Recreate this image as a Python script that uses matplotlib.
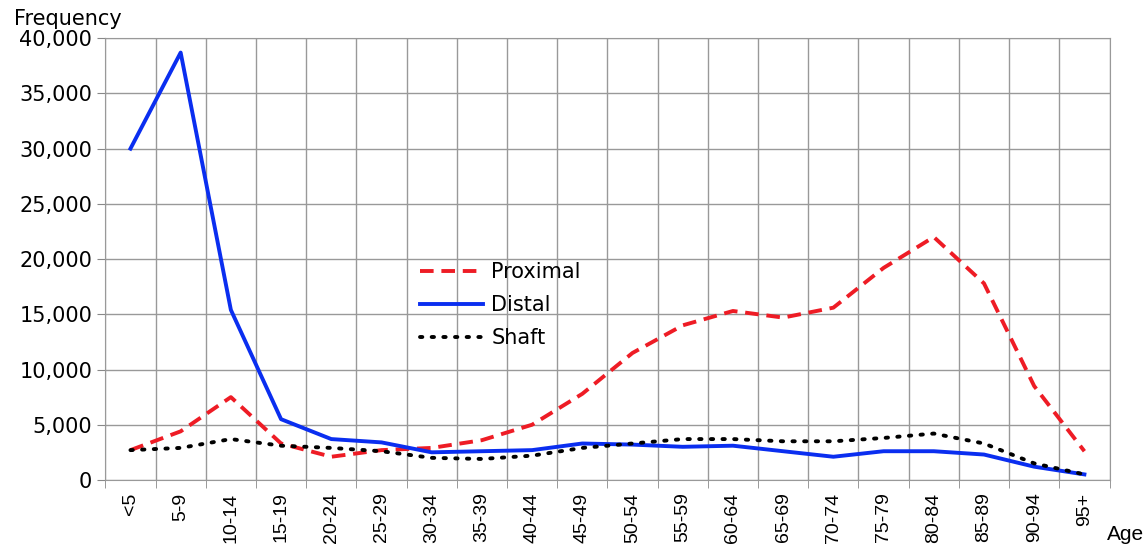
import numpy as np
import matplotlib
matplotlib.use("Agg")
import matplotlib.pyplot as plt
from matplotlib.ticker import FixedLocator, FuncFormatter

# age groups and fracture counts
ages = ['<5', '5-9', '10-14', '15-19', '20-24', '25-29', '30-34', '35-39',
        '40-44', '45-49', '50-54', '55-59', '60-64', '65-69', '70-74',
        '75-79', '80-84', '85-89', '90-94', '95+']
proximal = [2700, 4400, 7500, 3300, 2100, 2700, 2900, 3600, 5000, 7800,
            11500, 14000, 15300, 14700, 15600, 19200, 22000, 17800, 8500, 2600]
distal = [30000, 38700, 15400, 5500, 3700, 3400, 2500, 2600, 2700, 3300,
          3200, 3000, 3100, 2600, 2100, 2600, 2600, 2300, 1200, 500]
shaft = [2700, 2900, 3700, 3100, 2900, 2600, 2000, 1900, 2200, 2900,
         3300, 3700, 3700, 3500, 3500, 3800, 4200, 3300, 1500, 500]

x = np.arange(len(ages))

fig = plt.figure(figsize=(11.45, 5.46), dpi=100)
ax = fig.add_axes([0.092, 0.121, 0.877, 0.809])

ax.plot(x, proximal, color='#ee1c25', lw=2.8, ls=(0, (3.5, 2)), label='Proximal')
ax.plot(x, distal, color='#0a2ef0', lw=2.8, label='Distal')
ax.plot(x, shaft, color='black', lw=2.8, ls=(0, (0.6, 2.4)),
        dash_capstyle='round', label='Shaft')

ax.set_xlim(-0.5, len(ages) - 0.5)
ax.set_ylim(0, 40000)

# labels at the centres, grid and ticks at the boundaries
ax.set_xticks(x)
ax.set_xticklabels(ages, rotation=90, fontsize=14, family='Liberation Sans')
ax.xaxis.set_minor_locator(FixedLocator(np.arange(-0.5, len(ages), 1)))
ax.tick_params(axis='x', which='major', length=0, pad=9)
ax.tick_params(axis='x', which='minor', length=6, color='#888888')
ax.grid(True, axis='x', which='minor', color='#999999', lw=1)

ax.set_yticks(np.arange(0, 40001, 5000))
ax.yaxis.set_major_formatter(FuncFormatter(lambda v, p: f'{int(v):,}'))
ax.tick_params(axis='y', length=6, color='#888888', labelsize=15)
ax.grid(True, axis='y', color='#999999', lw=1)
ax.set_axisbelow(True)

for s in ax.spines.values():
    s.set_color('#999999')

fig.text(0.012, 0.965, 'Frequency', fontsize=15, ha='left', va='center')
fig.text(0.999, 0.004, 'Age', fontsize=15, ha='right', va='bottom',
         family='Liberation Sans')

ax.legend(loc='upper left', bbox_to_anchor=(0.295, 0.535), frameon=False,
          fontsize=15, handlelength=3.0, handletextpad=0.4, labelspacing=0.62)

fig.savefig('out.png', dpi=100)
